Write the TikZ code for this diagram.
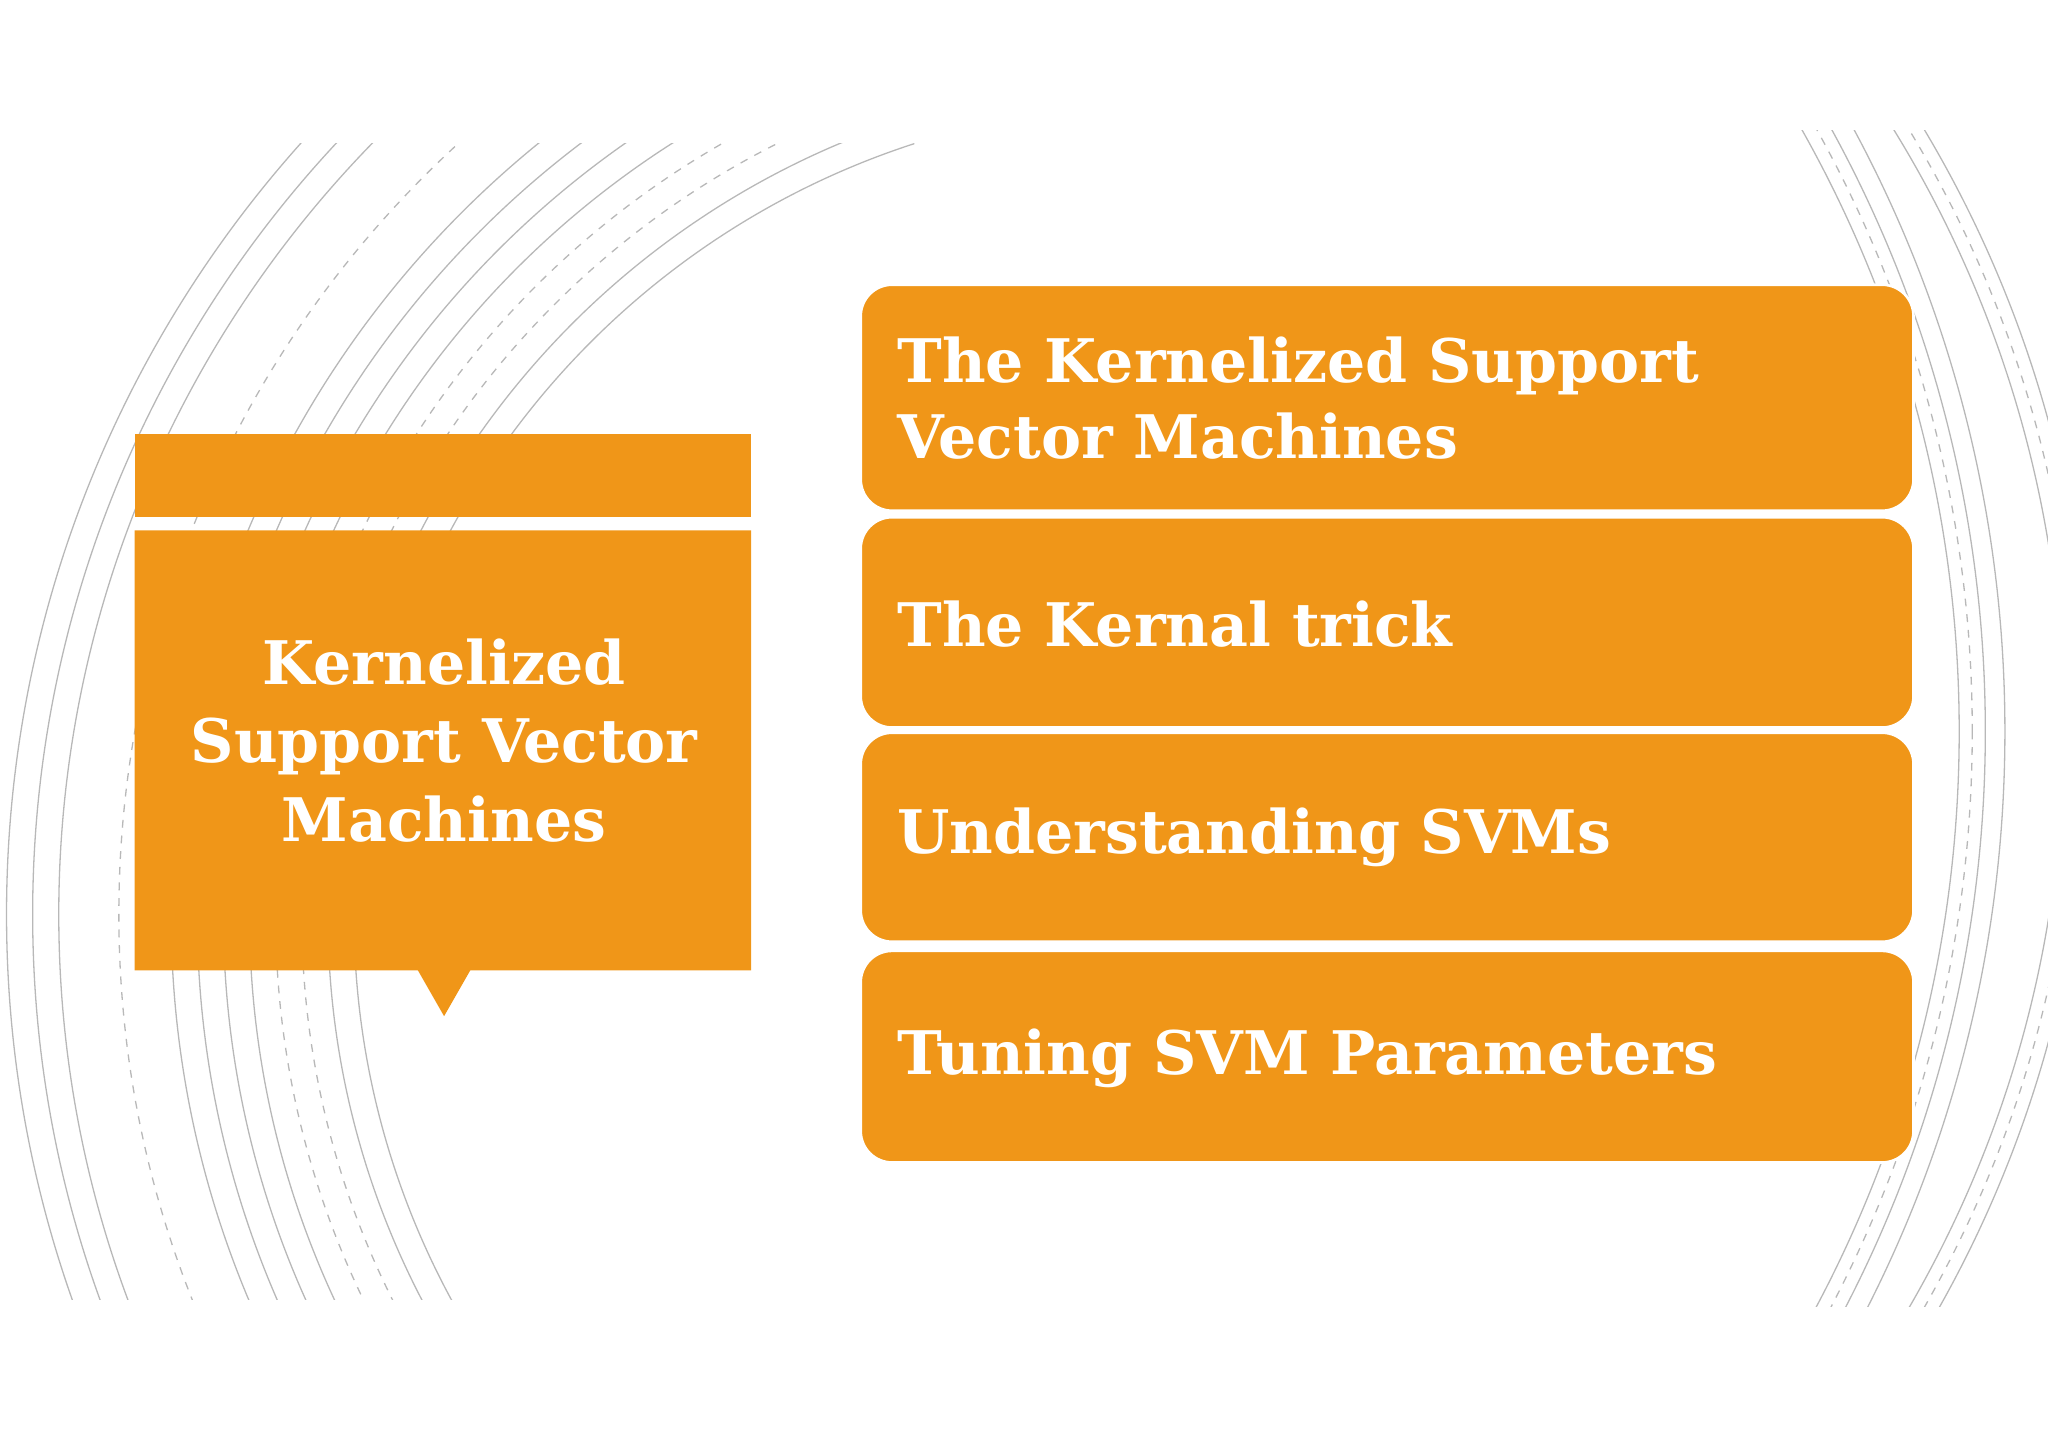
\documentclass[tikz,border=0pt]{standalone}
\usepackage{fontspec}
\setmainfont{DejaVu Serif}
\begin{document}
\begin{tikzpicture}[x=0.5pt,y=-0.5pt,
  org/.style={fill={rgb,255:red,240;green,150;blue,24}, draw=none},
  item/.style={org, rounded corners=12pt, draw=white, line width=1pt},
  itemtxt/.style={anchor=west, text=white, font=\bfseries\fontsize{23}{29}\selectfont, align=left},
  arcl/.style={draw=black!28, line width=0.5pt},
  arcd/.style={draw=black!28, line width=0.5pt, dashed}]
\useasboundingbox (0,0) rectangle (1568,1109);
\begin{scope}
\clip (0,110) rectangle (700,995);
\foreach \r in {886,866,846,760,740,720,700,640,620} \draw[arcl] (891,700) circle (\r);
\foreach \r in {800,680,660} \draw[arcd] (891,700) circle (\r);
\end{scope}
\begin{scope}
\clip (1300,100) rectangle (1568,1000);
\foreach \r in {880,900} \draw[arcl] (700,560) circle (\r);
\draw[arcd] (700,560) circle (890);
\foreach \r in {940,960,975} \draw[arcl] (560,560) circle (\r);
\draw[arcd] (560,560) circle (950);
\end{scope}
\node[org, minimum width=236pt, minimum height=32pt, inner sep=0pt] (bar) at (339,364) {};
\path[org] (103,406) -- (575,406) -- (575,743) -- (360,743) -- (340,778) -- (320,743) -- (103,743) -- cycle;
\node[text=white, font=\bfseries\fontsize{23}{30}\selectfont, align=center] (main) at (340,567) {Kernelized\\Support Vector\\Machines};
\draw[item] (659,218) rectangle (1465,391);
\node[itemtxt] (t1) at (680,305) {The Kernelized Support\\Vector Machines};
\draw[item] (659,396) rectangle (1465,557);
\node[itemtxt] (t2) at (680,478) {The Kernal trick};
\draw[item] (659,561) rectangle (1465,721);
\node[itemtxt] (t3) at (680,641) {Understanding SVMs};
\draw[item] (659,728) rectangle (1465,890);
\node[itemtxt] (t4) at (680,810) {Tuning SVM Parameters};
\end{tikzpicture}
\end{document}
